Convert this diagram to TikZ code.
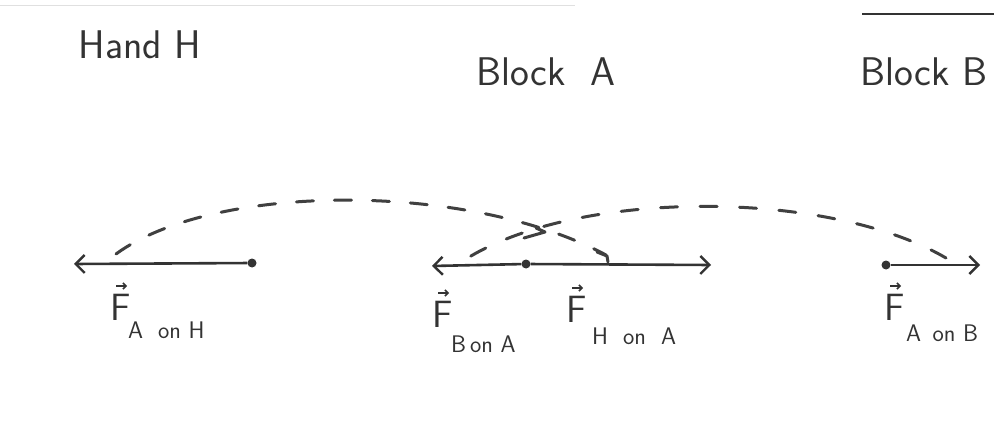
\documentclass[tikz,border=0pt]{standalone}
\usetikzlibrary{arrows.meta}
\begin{document}
\begin{tikzpicture}[x=1pt,y=-1pt,
  force/.style={line width=2.6pt,draw=black!80,-{Straight Barb[length=9pt,width=18pt,line width=2.4pt]}},
  dot/.style={circle,fill=black!80,inner sep=0pt,minimum size=9pt},
  pair/.style={line width=3pt,draw=black!75,dash pattern=on 17pt off 21pt,line cap=round},
  tick/.style={line width=3pt,draw=black!75,line cap=round,line join=round},
  vecarr/.style={line width=1.8pt,draw=black!80,-{Straight Barb[length=3pt,width=6pt,line width=1.5pt]}},
  title/.style={font=\sffamily\fontsize{40}{46}\selectfont,text=black!80,inner sep=0pt},
  fl/.style={font=\sffamily\fontsize{38}{42}\selectfont,text=black!80,inner sep=0pt,anchor=north},
  sub/.style={font=\sffamily\fontsize{24}{28}\selectfont,text=black!80,inner sep=0pt,anchor=west}]
\useasboundingbox (0,0) rectangle (994,433);
\fill[white] (0,0) rectangle (994,433);
% border remnants
\coordinate (t1) at (0,6); \coordinate (t2) at (575,6);
\draw[black!12,line width=1pt] (t1) -- (t2);
\coordinate (r1) at (862,14); \coordinate (r2) at (994,14);
\draw[black!80,line width=1.2pt] (r1) -- (r2);
% titles
\node[title] (hand) at (140,45) {Hand H};
\node[title] (blockA) at (546,72) {Block\ \ A};
\node[title] (blockB) at (924,72) {Block B};
% points and arrow ends
\node[dot] (pH) at (252,263) {};
\coordinate (tH) at (74,264);
\node[dot] (pA) at (526,264) {};
\coordinate (tA1) at (432,266);
\coordinate (tA2) at (711,265);
\node[dot] (pB) at (886,265) {};
\coordinate (tB) at (980,265);
\draw[force] (pH) -- (tH);
\draw[force] (pA) -- (tA1);
\draw[force] (pA) -- (tA2);
\draw[force] (pB) -- (tB);
% dashed interaction lines
\coordinate (a1s) at (116,254); \coordinate (a1e) at (606,255);
\draw[pair] (a1s) .. controls (215,182) and (470,182) .. (a1e);
\coordinate (h1) at (597,252); \coordinate (h2) at (607,256); \coordinate (h3) at (608,262);
\draw[tick] (h1) -- (h2) -- (h3);
\coordinate (a2s) at (466,259); \coordinate (a2e) at (946,258);
\draw[pair,dash pattern=on 17pt off 22.5pt] (a2e) .. controls (830,190) and (580,188) .. (a2s);
\coordinate (k1) at (524,238); \coordinate (k2) at (545,232); \coordinate (k3) at (536,228);
\draw[tick] (k1) -- (k2) -- (k3);
% labels
\node[fl] (fAH) at (121,294) {F};
\node[sub] (sAH) at (128,330) {A\ \ on\ H};
\node[fl] (fBA) at (443,301) {F};
\node[sub] (sBA) at (451,344) {B\,on\ A};
\node[fl] (fHA) at (577,296) {F};
\node[sub] (sHA) at (592,336) {H\ \ on\ \ A};
\node[fl] (fAB) at (895,294) {F};
\node[sub] (sAB) at (906,333) {A\ \,on B};
\foreach \f in {fAH,fBA,fHA,fAB}{
  \draw[vecarr] ([xshift=-5pt,yshift=8pt]\f.north) -- ([xshift=6pt,yshift=8pt]\f.north);
}
\end{tikzpicture}
\end{document}
